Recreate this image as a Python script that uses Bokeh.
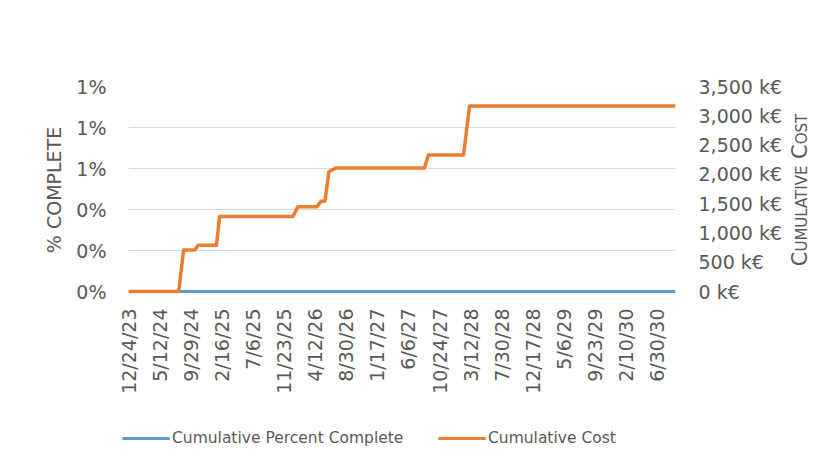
import pandas as pd
from math import pi
from bokeh.plotting import figure
from bokeh.layouts import column, row
from bokeh.models import Range1d, LinearAxis, FixedTicker, Div
from bokeh.embed import file_html
from bokeh.resources import INLINE

# ---------------- data ----------------
cost_dates = ["2023-12-24", "2024-08-06", "2024-08-28", "2024-10-18", "2024-11-01",
              "2025-01-23", "2025-02-06", "2026-01-02", "2026-01-24", "2026-04-20",
              "2026-05-08", "2026-05-26", "2026-06-13", "2026-07-15", "2027-08-17",
              "2027-09-04", "2028-02-09", "2028-03-07", "2030-09-20"]
cost_values = [0, 0, 710, 710, 790, 790, 1280, 1280, 1445, 1445, 1540, 1540,
               2045, 2110, 2110, 2330, 2330, 3165, 3165]   # k€

pct_dates = ["2023-12-24", "2030-09-20"]
pct_values = [0.0, 0.0]

x_tick_labels = ["12/24/23", "5/12/24", "9/29/24", "2/16/25", "7/6/25", "11/23/25",
                 "4/12/26", "8/30/26", "1/17/27", "6/6/27", "10/24/27", "3/12/28",
                 "7/30/28", "12/17/28", "5/6/29", "9/23/29", "2/10/30", "6/30/30"]
pct_ticks = [0.0, 0.002, 0.004, 0.006, 0.008, 0.010]
pct_tick_labels = ["0%", "0%", "0%", "1%", "1%", "1%"]
cost_ticks = [0, 500, 1000, 1500, 2000, 2500, 3000, 3500]
cost_tick_labels = ["0 k€", "500 k€", "1,000 k€", "1,500 k€", "2,000 k€",
                    "2,500 k€", "3,000 k€", "3,500 k€"]

series_names = ["Cumulative Percent Complete", "Cumulative Cost"]
left_title = "% COMPLETE"
right_title = "Cumulative Cost"     # shown in small caps

# ---------------- styling ----------------
FONT = "DejaVu Sans"
GREY = "#595959"
GRID = "#d9d9d9"
BLUE = "#5B9BD5"
ORANGE = "#ED7D31"
TICK_SIZE = "19px"
W = 827
W_MAIN = 790
H_MAIN = 420
TOP = 86
PLOT_H = 205          # pixel height of the 0..max span
PAD = 2               # extra pixels below zero so the zero line is not clipped

cost_x = pd.to_datetime(cost_dates)
pct_x = pd.to_datetime(pct_dates)
tick_x = pd.to_datetime(x_tick_labels, format="%m/%d/%y")
tick_ms = [float(t.value // 10**6) for t in tick_x]

pct_pad = (pct_ticks[-1] - pct_ticks[0]) * PAD / PLOT_H
cost_pad = (cost_ticks[-1] - cost_ticks[0]) * PAD / PLOT_H

p = figure(width=W_MAIN, height=H_MAIN, output_backend="svg", toolbar_location=None,
           x_axis_type="datetime",
           x_range=Range1d(cost_x[0], cost_x[-1]),
           y_range=Range1d(pct_ticks[0] - pct_pad, pct_ticks[-1]),
           min_border_left=128, min_border_right=W_MAIN - 675,
           min_border_top=TOP, min_border_bottom=H_MAIN - TOP - PLOT_H - PAD)
p.extra_y_ranges = {"cost": Range1d(cost_ticks[0] - cost_pad, cost_ticks[-1])}
p.outline_line_color = None
p.background_fill_color = "white"
p.border_fill_color = "white"

p.xgrid.visible = False
p.ygrid.grid_line_color = GRID
p.ygrid.grid_line_width = 1


def style_axis(ax, standoff):
    ax.major_tick_line_color = None
    ax.minor_tick_line_color = None
    ax.major_tick_out = 0
    ax.major_tick_in = 0
    ax.minor_tick_out = 0
    ax.minor_tick_in = 0
    ax.major_label_standoff = standoff
    ax.major_label_text_font = FONT
    ax.major_label_text_font_size = TICK_SIZE
    ax.major_label_text_color = GREY
    ax.axis_label_text_font = FONT
    ax.axis_label_text_font_style = "normal"
    ax.axis_label_text_color = GREY


# x axis
xa = p.xaxis[0]
xa.ticker = FixedTicker(ticks=tick_ms)
xa.major_label_overrides = {ms: lab for ms, lab in zip(tick_ms, x_tick_labels)}
xa.major_label_orientation = pi / 2
xa.axis_line_color = None
style_axis(xa, 15)

# left axis
ya = p.yaxis[0]
ya.ticker = FixedTicker(ticks=pct_ticks)
ya.major_label_overrides = {t: lab for t, lab in zip(pct_ticks, pct_tick_labels)}
ya.axis_line_color = None
style_axis(ya, 22)
ya.axis_label = left_title
ya.axis_label_text_font_size = "19px"
ya.axis_label_standoff = 8

# right axis
ra = LinearAxis(y_range_name="cost")
ra.ticker = FixedTicker(ticks=cost_ticks)
ra.major_label_overrides = {t: lab for t, lab in zip(cost_ticks, cost_tick_labels)}
ra.axis_line_color = None
style_axis(ra, 23)
p.add_layout(ra, "right")

# series
r_pct = p.line(pct_x, pct_values, line_color=BLUE, line_width=3, line_join="round")
r_cost = p.line(cost_x, cost_values, y_range_name="cost", line_color=ORANGE,
                line_width=3.5, line_join="round")

# right-hand axis title (small caps, reading bottom to top)
title_html = (f'<div style="position:relative;width:{W - W_MAIN}px;height:{H_MAIN}px">'
              f'<div style="position:absolute;left:10px;top:190px;'
              f'transform:translate(-50%,-50%) rotate(-90deg);white-space:nowrap;'
              f"font-family:'{FONT}';font-size:21px;font-variant:small-caps;"
              f'line-height:1;color:{GREY}">{right_title}</div></div>')
title_div = Div(text=title_html, width=W - W_MAIN, height=H_MAIN, margin=0)

# legend strip below the chart
legend_items = [(series_names[0], BLUE, 122), (series_names[1], ORANGE, 438)]
parts = []
for name, col, left in legend_items:
    parts.append(f'<span style="position:absolute;left:{left}px;top:17px;width:48px;'
                 f'height:3px;background:{col};border-radius:2px"></span>')
    parts.append(f'<span style="position:absolute;left:{left + 50}px;top:8px;'
                 f'line-height:20px;white-space:nowrap">{name}</span>')
legend_html = (f'<div style="position:relative;width:{W}px;height:45px;'
               f"font-family:'{FONT}';font-size:15.5px;color:{GREY}\">"
               + "".join(parts) + "</div>")
legend_div = Div(text=legend_html, width=W, height=45, margin=0)

page = column(row(p, title_div, spacing=0), legend_div, spacing=0)
open("out.html", "w").write(file_html(page, INLINE))
